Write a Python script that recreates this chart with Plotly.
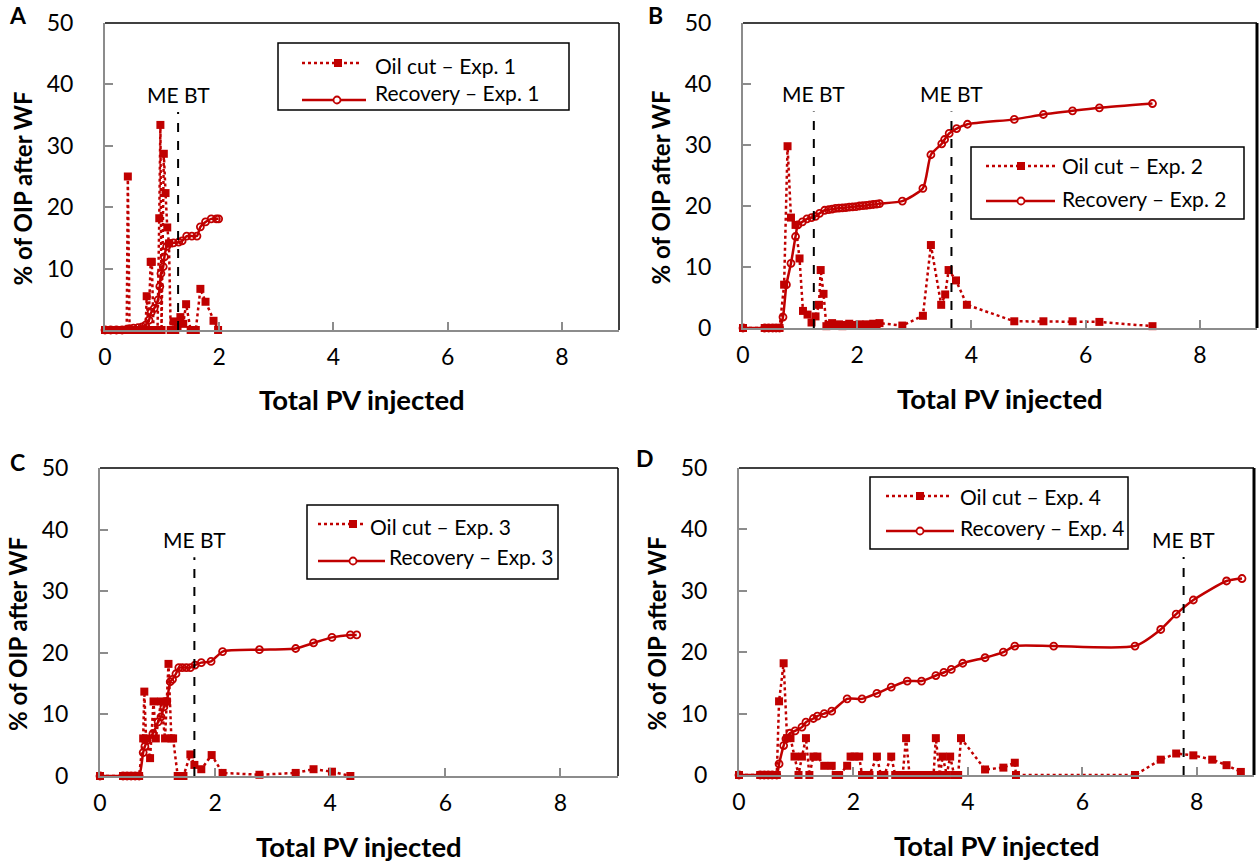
import plotly.graph_objects as go

# ---------------- data ----------------
# Experiment 1
a_cut_x = [0, 0.05, 0.1, 0.15, 0.2, 0.25, 0.3, 0.35, 0.38, 0.40, 0.43, 0.48, 0.53, 0.58, 0.63, 0.68,
           0.71, 0.73, 0.76, 0.80, 0.82, 0.85, 0.88, 0.92, 0.95, 0.97, 0.99, 1.03, 1.06, 1.09, 1.12,
           1.15, 1.18, 1.20, 1.23, 1.27, 1.32, 1.37, 1.42, 1.50, 1.59, 1.67, 1.76, 1.90, 1.98]
a_cut_y = [0, 0, 0, 0, 0, 0, 0, 0, 0, 25.0, 0, 0, 0, 0, 0, 0,
           0, 5.5, 0, 11.1, 11.1, 0, 0, 0, 18.2, 33.4, 0, 28.7, 22.3, 16.7, 14.1,
           0, 0, 1.4, 0, 0.5, 2.1, 1.0, 4.2, 0, 0, 6.7, 4.6, 1.5, 0]
a_rec_x = [0, 0.1, 0.2, 0.3, 0.38, 0.43, 0.5, 0.58, 0.65, 0.71, 0.77, 0.81, 0.86, 0.93, 0.96, 0.98,
           1.02, 1.04, 1.08, 1.12, 1.20, 1.29, 1.35, 1.43, 1.52, 1.61, 1.67, 1.76, 1.86, 1.95, 1.99]
a_rec_y = [0, 0, 0, 0, 0.1, 0.2, 0.3, 0.4, 0.5, 0.8, 1.6, 2.9, 3.5, 4.9, 7.1, 9.2,
           10.3, 11.9, 13.6, 14.1, 14.2, 14.3, 14.5, 15.3, 15.3, 15.3, 16.8, 17.6, 18.1, 18.1, 18.1]

# Experiment 2
b_cut_x = [0, 0.38, 0.45, 0.52, 0.58, 0.64, 0.72, 0.78, 0.84, 0.92, 0.99, 1.05, 1.13, 1.20, 1.27,
           1.33, 1.36, 1.41, 1.46, 1.50, 1.56, 1.62, 1.68, 1.74, 1.80, 1.86, 1.92, 1.98, 2.04, 2.10,
           2.16, 2.22, 2.28, 2.34, 2.39, 2.79, 3.15, 3.29, 3.47, 3.54, 3.60, 3.73, 3.92, 4.75, 5.26,
           5.77, 6.24, 7.17]
b_cut_y = [0, 0, 0, 0, 0, 0, 7.1, 29.8, 18.1, 16.9, 11.4, 2.8, 2.2, 0.9, 1.9,
           3.8, 9.5, 5.6, 0.3, 0.5, 0.8, 0.4, 0.6, 0.3, 0.5, 0.7, 0.4, 0.5, 0.6, 0.4,
           0.6, 0.5, 0.7, 0.6, 0.8, 0.4, 2.0, 13.6, 3.8, 5.5, 9.5, 7.8, 3.8, 1.1, 1.1,
           1.1, 1.0, 0.3]
b_rec_x = [0, 0.38, 0.45, 0.52, 0.58, 0.64, 0.70, 0.76, 0.84, 0.92, 0.96, 1.04, 1.12, 1.20, 1.27,
           1.34, 1.43, 1.50, 1.56, 1.62, 1.68, 1.74, 1.80, 1.86, 1.92, 1.98, 2.04, 2.10, 2.16, 2.22,
           2.28, 2.34, 2.39, 2.79, 3.15, 3.29, 3.48, 3.53, 3.61, 3.74, 3.93, 4.75, 5.26, 5.77, 6.24,
           7.17]
b_rec_y = [0, 0, 0, 0, 0, 0, 1.8, 7.1, 10.6, 15.0, 16.9, 17.4, 17.9, 18.1, 18.3,
           18.8, 19.3, 19.4, 19.5, 19.6, 19.65, 19.7, 19.75, 19.8, 19.85, 19.9, 20.0, 20.05, 20.1, 20.2,
           20.25, 20.3, 20.4, 20.8, 22.9, 28.4, 30.2, 30.9, 31.9, 32.7, 33.4, 34.2, 35.0, 35.6, 36.1,
           36.8]

# Experiment 3
c_cut_x = [0, 0.40, 0.47, 0.54, 0.61, 0.68, 0.75, 0.77, 0.80, 0.87, 0.93, 0.97, 1.06, 1.13, 1.16,
           1.19, 1.24, 1.27, 1.35, 1.40, 1.45, 1.57, 1.64, 1.76, 1.94, 2.13, 2.77, 3.40, 3.71, 4.03,
           4.35]
c_cut_y = [0, 0, 0, 0, 0, 0, 6.1, 13.7, 6.1, 2.9, 12.1, 6.1, 12.1, 6.1, 12.1,
           18.2, 6.1, 6.1, 0, 0, 0, 3.5, 1.8, 1.1, 3.4, 0.5, 0.2, 0.5, 1.1, 0.7,
           0]
c_rec_x = [0, 0.40, 0.47, 0.54, 0.61, 0.68, 0.75, 0.78, 0.82, 0.92, 1.01, 1.06, 1.11, 1.16, 1.22,
           1.26, 1.32, 1.37, 1.43, 1.50, 1.57, 1.65, 1.76, 1.93, 2.13, 2.77, 3.40, 3.71, 4.03, 4.35,
           4.46]
c_rec_y = [0, 0, 0, 0, 0, 0, 3.8, 4.8, 5.8, 6.9, 8.8, 9.6, 11.2, 12.1, 15.3,
           15.7, 16.6, 17.6, 17.6, 17.6, 17.6, 18.0, 18.4, 18.6, 20.2, 20.5, 20.7, 21.6, 22.5, 22.9,
           22.9]

# Experiment 4
d_cut_x = [0, 0.37, 0.44, 0.51, 0.58, 0.66, 0.70, 0.78, 0.84, 0.90, 0.97, 1.04, 1.10, 1.17, 1.23,
           1.30, 1.37, 1.49, 1.62, 1.69, 1.75, 1.89, 1.95, 2.02, 2.10, 2.15, 2.21, 2.28, 2.41, 2.48,
           2.54, 2.66, 2.73, 2.79, 2.86, 2.92, 2.98, 3.05, 3.13, 3.20, 3.27, 3.34, 3.40, 3.44, 3.51,
           3.56, 3.63, 3.69, 3.76, 3.83, 3.88, 4.30, 4.62, 4.82, 4.84, 6.92, 7.37, 7.64, 7.94, 8.27,
           8.52, 8.77]
d_cut_y = [0, 0, 0, 0, 0, 0, 12.0, 18.2, 6.0, 6.0, 3.0, 0, 3.0, 6.0, 0,
           3.0, 3.0, 1.5, 1.5, 0, 0, 1.5, 3.0, 3.0, 3.0, 0, 0, 0, 3.0, 0,
           0, 3.0, 0, 0, 0, 6.0, 0, 0, 0, 0, 0, 0, 0, 6.0, 0,
           3.0, 0, 3.0, 0, 0, 6.0, 0.9, 1.2, 2.0, 0, 0, 2.5, 3.5, 3.2, 2.5,
           1.6, 0.5]
d_rec_x = [0, 0.37, 0.44, 0.51, 0.58, 0.66, 0.70, 0.78, 0.82, 0.89, 0.98, 1.10, 1.17, 1.30, 1.37,
           1.49, 1.62, 1.89, 2.15, 2.41, 2.66, 2.94, 3.19, 3.44, 3.58, 3.71, 3.91, 4.30, 4.62, 4.82,
           5.50, 6.92, 7.37, 7.64, 7.94, 8.52, 8.79]
d_rec_y = [0, 0, 0, 0, 0, 0, 1.8, 4.8, 5.9, 6.8, 7.2, 7.8, 8.6, 9.2, 9.6,
           10.0, 10.4, 12.4, 12.4, 13.3, 14.3, 15.3, 15.3, 16.2, 16.7, 17.2, 18.2, 19.1, 20.0, 21.0,
           21.0, 21.0, 23.7, 26.2, 28.5, 31.6, 32.0]

# micro-emulsion breakthrough (PV) per experiment
me_bt = [[1.28], [1.24, 3.65], [1.64], [7.77]]
me_bt_top = 35.5

panel_letters = ["A", "B", "C", "D"]
exp_labels = ["1", "2", "3", "4"]
x_ticks = [0, 2, 4, 6, 8]
y_ticks = [0, 10, 20, 30, 40, 50]

# ---------------- layout geometry (pixels) ----------------
W, H = 1259, 866
RED = "#C00000"
FONT = "Lato, Carlito, Calibri, sans-serif"

# plot areas: (left, right, top, bottom) in pixels
areas = [(105, 619, 23, 330), (743, 1257, 23, 328), (100, 618, 468, 776), (739, 1254, 468, 775)]
letter_pos = [(18, 15), (655, 15), (17, 462), (645, 458)]

# legend boxes: frame, then per row (sample start, sample end, symbol x, sample y, text x, text y)
legend_boxes = [
    dict(box=(278, 43, 569, 110),
         rows=[(302, 360, 338, 63, 373, 65), (302, 366, 337, 100, 373, 93)]),
    dict(box=(971, 147, 1244, 219),
         rows=[(986, 1056, 1021, 166, 1060, 166), (986, 1055, 1021, 201, 1060, 198)]),
    dict(box=(307, 505, 558, 579),
         rows=[(318, 366, 353, 524, 368, 526), (318, 385, 353, 561, 387, 556)]),
    dict(box=(870, 477, 1128, 549),
         rows=[(886, 952, 920, 496, 958, 497), (886, 954, 920, 531, 958, 527)]),
]

series = [
    (a_cut_x, a_cut_y, a_rec_x, a_rec_y),
    (b_cut_x, b_cut_y, b_rec_x, b_rec_y),
    (c_cut_x, c_cut_y, c_rec_x, c_rec_y),
    (d_cut_x, d_cut_y, d_rec_x, d_rec_y),
]

cut_line = dict(color=RED, width=2.5, dash="dot")
rec_line = dict(color=RED, width=2.5)

fig = go.Figure()
shapes = []
annotations = []


def px(x):
    return x / W


def py(y):
    return 1 - y / H


def paper_text(x, y, text, size, angle=0, xanchor="center"):
    return dict(x=px(x), y=py(y), xref="paper", yref="paper", text=text,
                showarrow=False, xanchor=xanchor, yanchor="middle", textangle=angle,
                font=dict(family=FONT, size=size, color="black"))


for i, (cx, cy, rx, ry) in enumerate(series):
    n = i + 1
    sfx = "" if n == 1 else str(n)
    xa, ya = "x" + sfx, "y" + sfx
    cut_name = f"Oil cut \u2013 Exp. {exp_labels[i]}"
    rec_name = f"Recovery \u2013 Exp. {exp_labels[i]}"
    fig.add_trace(go.Scatter(
        x=cx, y=cy, mode="lines+markers", name=cut_name, line=cut_line,
        marker=dict(symbol="square", size=8, color=RED),
        xaxis=xa, yaxis=ya, cliponaxis=False, showlegend=False,
    ))
    fig.add_trace(go.Scatter(
        x=rx, y=ry, mode="lines+markers", name=rec_name,
        line=dict(rec_line, shape="spline", smoothing=0.6),
        marker=dict(symbol="circle-open", size=7, color=RED, line=dict(width=1.8, color=RED)),
        xaxis=xa, yaxis=ya, cliponaxis=False, showlegend=False,
    ))

    l, r, t, b = areas[i]
    axis_common = dict(
        showline=True, linecolor="#8c8c8c", linewidth=2,
        ticks="inside", ticklen=8, tickwidth=1.5, tickcolor="#8c8c8c",
        showgrid=False, zeroline=False, automargin=False,
        tickfont=dict(family=FONT, size=23, color="black"),
    )
    fig.update_layout({
        "xaxis" + sfx: dict(axis_common, domain=[px(l), px(r)], anchor=ya, range=[0, 9],
                            tickvals=x_ticks, ticklabelstandoff=5),
        "yaxis" + sfx: dict(axis_common, domain=[py(b), py(t)], anchor=xa, range=[0, 50],
                            tickvals=y_ticks, ticklabelstandoff=25),
    })

    # black frame on top and right
    rw = 3 if i in (1, 3) else 1.5
    shapes.append(dict(type="line", xref=xa + " domain", yref=ya + " domain",
                       x0=0, x1=1, y0=1, y1=1, line=dict(color="black", width=1.5)))
    shapes.append(dict(type="line", xref=xa + " domain", yref=ya + " domain",
                       x0=1, x1=1, y0=0, y1=1, line=dict(color="black", width=rw)))

    # ME breakthrough markers
    for pv in me_bt[i]:
        shapes.append(dict(type="line", xref=xa, yref=ya, x0=pv, x1=pv, y0=0, y1=me_bt_top,
                           line=dict(color="black", width=2, dash="dash")))
        annotations.append(dict(x=pv, y=me_bt_top, xref=xa, yref=ya, text="ME BT",
                                showarrow=False, xanchor="center", yanchor="bottom", yshift=3,
                                font=dict(family=FONT, size=21, color="black")))

    # axis titles
    annotations.append(paper_text((l + r) / 2, b + 70, "<b>Total PV injected</b>", 27.5))
    annotations.append(paper_text(l - 83, (t + b) / 2 + 12, "<b>% of OIP after WF</b>", 24, -90))
    # panel letter
    lx, ly = letter_pos[i]
    annotations.append(paper_text(lx, ly, f"<b>{panel_letters[i]}</b>", 23))

    # legend: framed box with line samples, symbols and entry names
    lg = legend_boxes[i]
    x0, y0, x1, y1 = lg["box"]
    shapes.append(dict(type="rect", xref="paper", yref="paper",
                       x0=px(x0), x1=px(x1), y0=py(y1), y1=py(y0),
                       line=dict(color="black", width=1.5), fillcolor="white"))
    for k, (sx0, sx1, mx, sy, tx, ty) in enumerate(lg["rows"]):
        is_cut = k == 0
        shapes.append(dict(type="line", xref="paper", yref="paper",
                           x0=px(sx0), x1=px(sx1), y0=py(sy), y1=py(sy),
                           line=cut_line if is_cut else rec_line))
        half = 4 if is_cut else 3.5
        shapes.append(dict(type="rect" if is_cut else "circle", xref="paper", yref="paper",
                           x0=px(mx - half), x1=px(mx + half), y0=py(sy + half), y1=py(sy - half),
                           line=dict(color=RED, width=0 if is_cut else 1.8),
                           fillcolor=RED if is_cut else "white"))
        annotations.append(paper_text(tx, ty, cut_name if is_cut else rec_name, 21,
                                      xanchor="left"))

fig.update_layout(
    width=W, height=H,
    margin=dict(l=0, r=0, t=0, b=0),
    paper_bgcolor="white", plot_bgcolor="white",
    showlegend=False,
    shapes=shapes, annotations=annotations,
    font=dict(family=FONT, color="black"),
)

fig.write_html("out.html")
